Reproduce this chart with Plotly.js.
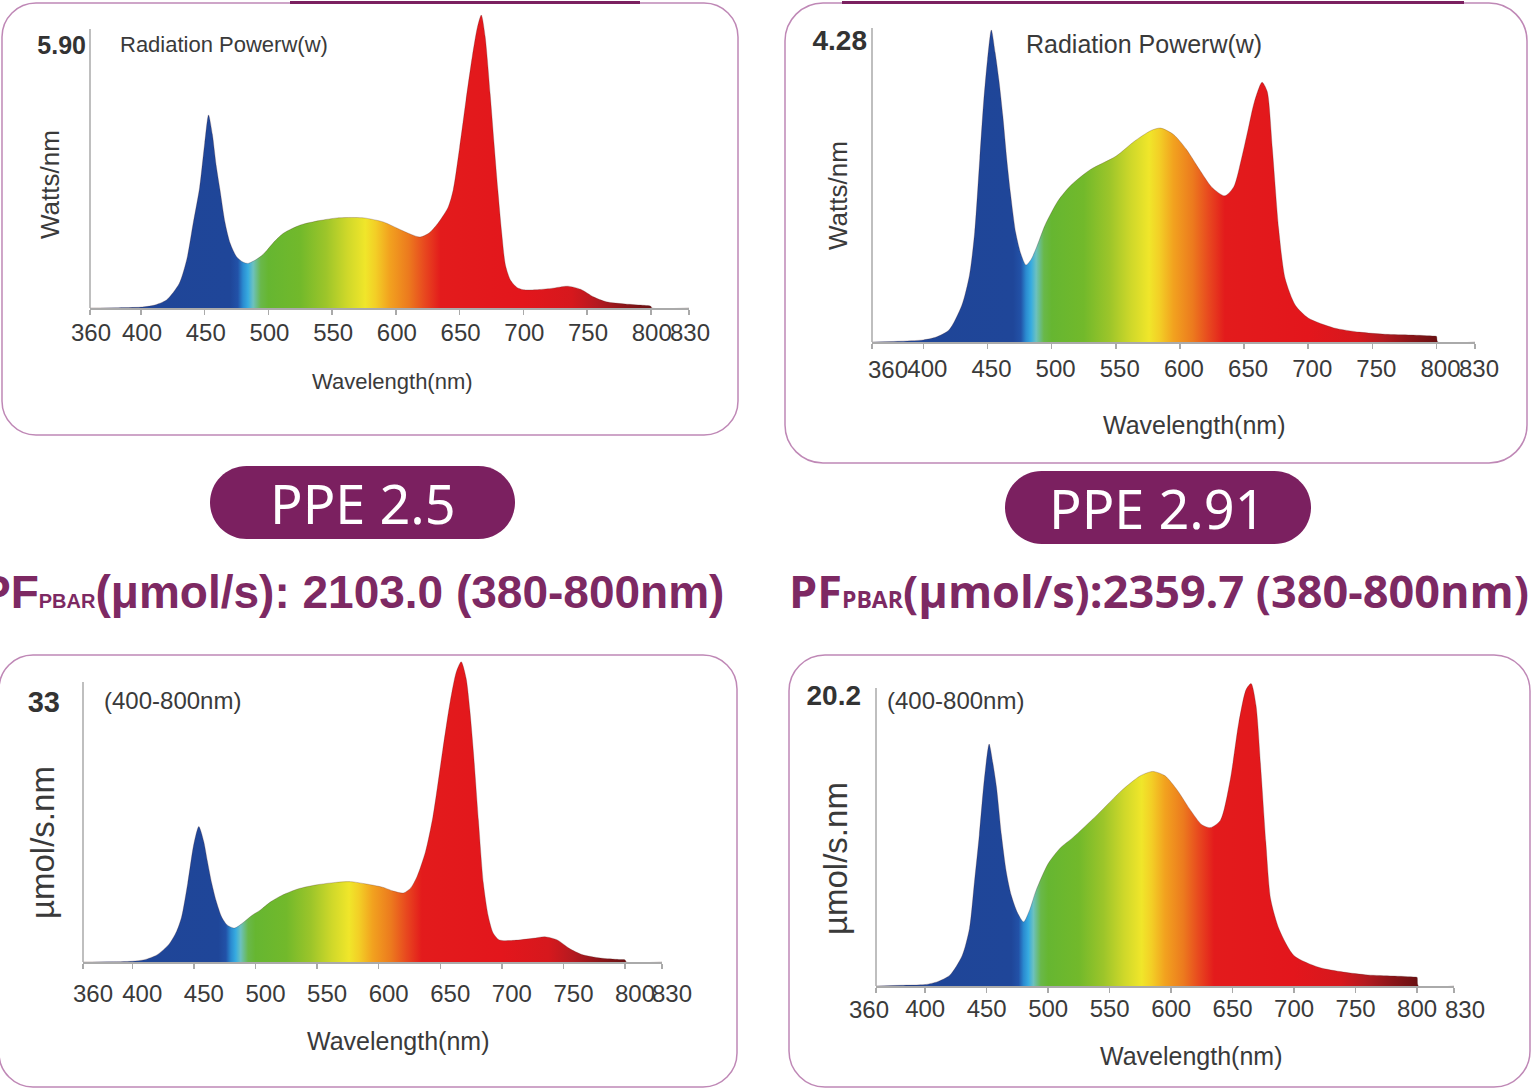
<!DOCTYPE html>
<html><head><meta charset="utf-8">
<script src="https://cdn.plot.ly/plotly-3.0.1.min.js"></script>
<style>html,body{margin:0;padding:0;background:#fff;overflow:hidden}#chart{width:1532px;height:1089px}</style>
</head><body><div id="chart"></div>
<script>
// ---------------- DATA ----------------
const tickValues = [360,400,450,500,550,600,650,700,750,800,830];
const tickLabels1 = ['360','400','450','500','550','600','650','700','750','800','830'];
const tickLabels2 = ['','400','450','500','550','600','650','700','750','800','830'];
const tickLabels3 = ['360','400','450','500','550','600','650','700','750','800','830'];
const tickLabels4 = ['','400','450','500','550','600','650','700','750','800',''];
// edge tick labels that sit off their tick in the original (drawn as axis-referenced text)
const edgeTicks2 = [360];       const edgeText2 = ['360'];
const edgeTicks4 = [360, 830];  const edgeText4 = ['360', '830'];

// Panel 1: Radiation power (Watts/nm), PPE 2.5
const wavelength1 = [360,380,400,410,420,430,436,441,446,450,453,456,459,462,466,470,475,480,484,490,495,499,505,512,525,540,554,565,575,590,604,612,619,626,633,641,645,650,655,660,664,667,670,674,677,680,683,686,690,695,700,710,722,735,745,755,765,780,795,800,801,830];
const radiation1 = [0,0.005,0.02,0.06,0.18,0.55,1.1,1.91,2.7,3.7,4.33,3.9,3.2,2.65,1.91,1.45,1.15,1.03,1.0,1.08,1.18,1.3,1.5,1.68,1.86,1.96,2.02,2.03,2.02,1.93,1.75,1.65,1.59,1.68,1.9,2.26,2.65,3.6,4.66,5.65,6.3,6.57,6.1,4.8,3.7,2.65,1.7,0.96,0.62,0.46,0.41,0.41,0.44,0.49,0.42,0.25,0.14,0.09,0.06,0.04,0,0];
const yTick1 = [5.90];

// Panel 2: Radiation power (Watts/nm), PPE 2.91
const wavelength2 = [360,380,400,410,420,430,436,440,444,447,450,453,456,459,462,465,468,472,476,480,484,488,495,505,515,530,550,565,578,585,595,605,615,625,635,642,648,653,658,664,668,672,677,682,690,700,720,740,760,780,798,800,801,830];
const radiation2 = [0,0.01,0.03,0.07,0.17,0.52,0.95,1.55,2.6,3.4,4.0,4.42,4.1,3.7,3.2,2.6,2.1,1.55,1.25,1.09,1.17,1.33,1.66,2.0,2.22,2.44,2.63,2.85,3.0,3.03,2.94,2.73,2.45,2.19,2.07,2.2,2.6,3.0,3.4,3.68,3.55,2.75,1.6,0.9,0.52,0.34,0.2,0.14,0.11,0.1,0.085,0.08,0,0];
const yTick2 = [4.28];

// Panel 3: Photon flux (µmol/s.nm), PPE 2.5
const wavelength3 = [360,380,400,410,420,430,436,440,445,450,454,458,461,464.5,468,472.6,477,483,490,497,504,512,522,535,550,565,577,590,603,612,620,626,631,638,644,652,658,663,667,671,674,677,681,685,689,693,698,710,725,735,745,755,765,780,795,800,801,830];
const photon3 = [0,0.03,0.1,0.3,0.9,2.3,3.9,5.7,10.0,15.0,17.2,15.3,12.8,10.0,7.8,5.7,4.7,4.3,5.0,5.9,6.6,7.6,8.5,9.3,9.8,10.1,10.2,9.9,9.5,9.0,8.75,9.4,10.8,14.0,18.4,26.9,33.0,36.8,38.1,36.0,32.0,26.5,18.0,10.0,5.8,3.66,2.8,2.75,3.0,3.2,2.8,1.7,0.95,0.5,0.32,0.28,0,0];
const yTick3 = [33];

// Panel 4: Photon flux (µmol/s.nm), PPE 2.91
const wavelength4 = [360,380,400,410,420,430,436,440,444,448,452,455,458,462,466,470,475,480,485,490,500,510,520,540,560,575,585,595,605,615,625,632,640,648,655,661,665,669,673,677,681,688,700,720,740,760,780,798,800,801,830];
const photon4 = [0,0.05,0.1,0.3,0.75,2.1,4.0,7.2,10.5,14.3,16.8,15.5,13.8,10.5,7.9,6.3,5.1,4.45,5.3,6.6,8.5,9.6,10.3,11.9,13.6,14.6,14.9,14.6,13.6,12.3,11.2,11.0,11.5,14.3,18.3,20.6,21.0,19.5,15.0,10.0,6.0,3.9,2.1,1.3,0.97,0.77,0.7,0.63,0.6,0,0];
const yTick4 = [20.2];

// Spectrum colour stops (wavelength nm -> colour)
const spectrumNm =    [360,      470,      476,      480,      484,      488,      494,      500,      525,      545,      562,      576,      584,      595,      610,      622,      635,      700,      738,      758,      778,      800,      830];
const spectrumColor = ['#1f4597','#1f4699','#2252a8','#2a8ad0','#37abe0','#6cc1bf','#69b84a','#66b631','#72b92b','#9cc52a','#cfd82a','#f0e62a','#f3cf26','#f2a21f','#ec7a1e','#e84a1f','#e31b1c','#e3161c','#d6181d','#b41a20','#8e1519','#6a1012','#5a0e10'];

// ---------------- LAYOUT HELPERS ----------------
const W = 1532, H = 1089;
const PX = x => x / W, PY = y => 1 - y / H;
const SANS = '"Liberation Sans",Arial,sans-serif';
const TXT = '#3a3a3a';
const PURPLE = '#7b2060';
const BOX = '#bf88b6';

const colorscale = spectrumNm.map((nm, i) => [(nm - 360) / (830 - 360), spectrumColor[i]]);

const panels = [
  {xL: 90,  xR: 689,  yBase: 308, ppu: 44.6, yMax: 6.62, yTop: 29,  wl: wavelength1, v: radiation1, labels: tickLabels1, yt: yTick1, ytText: ['5.90'], shift: 1,  standoffX: -2, standoffY: 3, ySize: 25, labelY: 333,
   edge: [], edgeText: [], edgeShift: []},
  {xL: 872, xR: 1475, yBase: 342, ppu: 70.6, yMax: 4.5,  yTop: 28,  wl: wavelength2, v: radiation2, labels: tickLabels2, yt: yTick2, ytText: ['4.28'], shift: 4,  standoffX: 0, standoffY: 4, ySize: 28, labelY: 369,
   edge: edgeTicks2, edgeText: edgeText2, edgeShift: [16]},
  {xL: 83,  xR: 662,  yBase: 962, ppu: 7.88, yMax: 38.8, yTop: 682, wl: wavelength3, v: photon3,    labels: tickLabels3, yt: yTick3, ytText: ['33'],   shift: 10, standoffX: 5, standoffY: 22, ySize: 29, labelY: 994,
   edge: [], edgeText: [], edgeShift: []},
  {xL: 876, xR: 1454, yBase: 986, ppu: 14.4, yMax: 21.3, yTop: 688, wl: wavelength4, v: photon4,    labels: tickLabels4, yt: yTick4, ytText: ['20.2'], shift: 0,  standoffX: -4, standoffY: 14, ySize: 28, labelY: 1009,
   edge: edgeTicks4, edgeText: edgeText4, edgeShift: [-7, 11]}
];

const data = [];
const layout = {
  width: W, height: H, margin: {l: 0, r: 0, t: 0, b: 0},
  paper_bgcolor: '#fff', plot_bgcolor: 'rgba(0,0,0,0)',
  showlegend: false, shapes: [], annotations: []
};

panels.forEach((p, i) => {
  const n = i === 0 ? '' : String(i + 1);
  data.push({
    type: 'scatter', mode: 'lines', x: p.wl, y: p.v,
    xaxis: 'x' + n, yaxis: 'y' + n,
    fill: 'tozeroy',
    fillgradient: {type: 'horizontal', start: 360, stop: 830, colorscale: colorscale},
    line: {shape: 'spline', smoothing: 0.7, width: 0.8, color: 'rgba(70,30,30,0.30)'},
    hoverinfo: 'skip', showlegend: false
  });
  const yTopDomain = p.yBase - p.yMax * p.ppu;
  layout['xaxis' + n] = {
    domain: [PX(p.xL), PX(p.xR)], range: [360, 830], anchor: 'y' + n,
    tickmode: 'array', tickvals: tickValues, ticktext: p.labels, tickangle: 0,
    ticks: 'outside', ticklen: 5, tickwidth: 1.5, tickcolor: '#aaaaaa',
    showline: true, linecolor: '#aaaaaa', linewidth: 1.5,
    showgrid: false, zeroline: false, fixedrange: true,
    ticklabelshift: p.shift, ticklabelstandoff: p.standoffX,
    tickfont: {family: SANS, size: 24, color: TXT}
  };
  layout['yaxis' + n] = {
    domain: [PY(p.yBase), PY(yTopDomain)], range: [0, p.yMax], anchor: 'x' + n,
    tickmode: 'array', tickvals: p.yt, ticktext: p.ytText, ticks: '',
    showline: false, showgrid: false, zeroline: false, fixedrange: true,
    ticklabelstandoff: p.standoffY,
    tickfont: {family: SANS, size: p.ySize, color: '#333', weight: 'bold'}
  };
  // edge tick labels placed on the axis scale
  p.edge.forEach((v, k) => {
    layout.annotations.push({text: p.edgeText[k], xref: 'x' + n, yref: 'paper', x: v, y: PY(p.labelY),
      xshift: p.edgeShift[k], showarrow: false, xanchor: 'center', yanchor: 'middle',
      font: {family: SANS, size: 24, color: TXT}});
  });
  // y axis line (from baseline to axis top)
  layout.shapes.push({type: 'line', xref: 'paper', yref: 'paper',
    x0: PX(p.xL), x1: PX(p.xL), y0: PY(p.yBase), y1: PY(p.yTop),
    line: {color: '#aaaaaa', width: 1.5}, layer: 'above'});
});

// rounded boxes
function roundRect(x0, y0, x1, y1, r) {
  const k = 0.5523 * r;
  const P = (x, y) => PX(x) + ',' + PY(y);
  return 'M' + P(x0 + r, y0) + ' L' + P(x1 - r, y0) +
    ' C' + P(x1 - r + k, y0) + ' ' + P(x1, y0 + r - k) + ' ' + P(x1, y0 + r) +
    ' L' + P(x1, y1 - r) +
    ' C' + P(x1, y1 - r + k) + ' ' + P(x1 - r + k, y1) + ' ' + P(x1 - r, y1) +
    ' L' + P(x0 + r, y1) +
    ' C' + P(x0 + r - k, y1) + ' ' + P(x0, y1 - r + k) + ' ' + P(x0, y1 - r) +
    ' L' + P(x0, y0 + r) +
    ' C' + P(x0, y0 + r - k) + ' ' + P(x0 + r - k, y0) + ' ' + P(x0 + r, y0) + ' Z';
}
[[2, 3, 738, 435, 34], [785, 3, 1527, 463, 38], [-1, 655, 737, 1087, 34], [789, 655, 1530, 1087, 36]].forEach(b => {
  layout.shapes.push({type: 'path', xref: 'paper', yref: 'paper', path: roundRect(b[0], b[1], b[2], b[3], b[4]),
    line: {color: BOX, width: 1.5}, fillcolor: 'rgba(0,0,0,0)', layer: 'below'});
});
// dark top strips
[[290, 640], [842, 1464]].forEach(s => {
  layout.shapes.push({type: 'line', xref: 'paper', yref: 'paper', x0: PX(s[0]), x1: PX(s[1]), y0: PY(2.5), y1: PY(2.5),
    line: {color: PURPLE, width: 3}, layer: 'above'});
});
// pills
[[210, 466, 515, 539], [1005, 471, 1311, 544]].forEach(b => {
  layout.shapes.push({type: 'path', xref: 'paper', yref: 'paper', path: roundRect(b[0], b[1], b[2], b[3], (b[3] - b[1]) / 2),
    line: {width: 0}, fillcolor: PURPLE, layer: 'above'});
});

function ann(text, x, y, opts) {
  layout.annotations.push(Object.assign({text: text, xref: 'paper', yref: 'paper', x: PX(x), y: PY(y),
    showarrow: false, xanchor: 'center', yanchor: 'middle',
    font: {family: SANS, size: 24, color: TXT}}, opts || {}));
}
// panel texts
ann('Radiation Powerw(w)', 118, 45, {xanchor: 'left', font: {family: SANS, size: 22, color: TXT}});
ann('Watts/nm', 50, 185, {textangle: -90, font: {family: SANS, size: 26, color: TXT}});
ann('Wavelength(nm)', 392, 382, {font: {family: SANS, size: 22, color: TXT}});

ann('Radiation Powerw(w)', 1024, 44, {xanchor: 'left', font: {family: SANS, size: 25, color: TXT}});
ann('Watts/nm', 838, 196, {textangle: -90, font: {family: SANS, size: 26, color: TXT}});
ann('Wavelength(nm)', 1194, 425, {font: {family: SANS, size: 25, color: TXT}});

ann('(400-800nm)', 102, 700, {xanchor: 'left', font: {family: SANS, size: 24, color: TXT}});
ann('µmol/s.nm', 42, 843, {textangle: -90, font: {family: SANS, size: 33, color: TXT}});
ann('Wavelength(nm)', 398, 1041, {font: {family: SANS, size: 25, color: TXT}});

ann('(400-800nm)', 885, 700, {xanchor: 'left', font: {family: SANS, size: 24, color: TXT}});
ann('µmol/s.nm', 835, 859, {textangle: -90, font: {family: SANS, size: 33, color: TXT}});
ann('Wavelength(nm)', 1191, 1056, {font: {family: SANS, size: 25, color: TXT}});

// badges
ann('PPE 2.5', 363, 503, {font: {family: '"Noto Sans",sans-serif', size: 54, color: '#ffffff'}});
ann('PPE 2.91', 1157, 508, {font: {family: '"Noto Sans",sans-serif', size: 54, color: '#ffffff'}});

// PF lines
ann('PF<span style="font-size:20px">PBAR</span>(μmol/s): 2103.0 (380-800nm)', 352, 592,
  {font: {family: SANS, size: 46, color: '#7d2963', weight: 'bold'}});
ann('PF<span style="font-size:23px">PBAR</span>(μmol/s):2359.7 (380-800nm)', 1159, 590,
  {font: {family: '"Open Sans",sans-serif', size: 45, color: '#7d2963', weight: 'bold'}});

Plotly.newPlot('chart', data, layout, {staticPlot: true, displayModeBar: false});
</script>
</body></html>
